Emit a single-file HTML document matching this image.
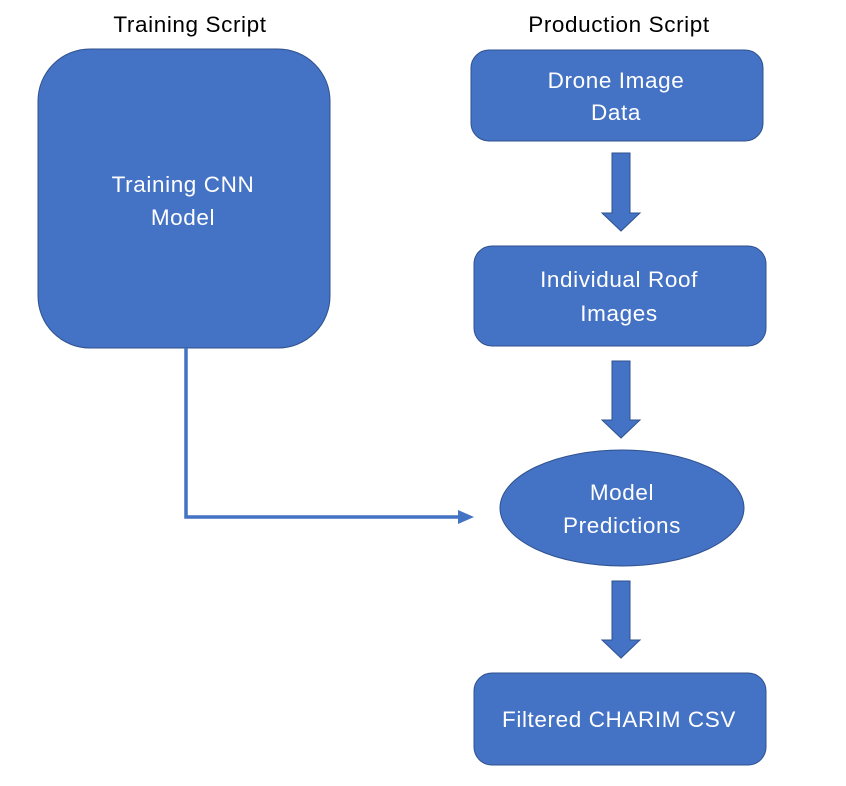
<!DOCTYPE html>
<html><head><style>html,body{margin:0;padding:0;background:#fff;}svg{display:block}</style></head>
<body>
<svg width="846" height="786" viewBox="0 0 846 786" xmlns="http://www.w3.org/2000/svg" font-family="'Liberation Sans', sans-serif">
<g fill="#4472c4" stroke="#2f528f" stroke-width="1">
<rect x="38" y="49" width="292" height="299" rx="52" ry="52"/>
<rect x="471" y="50" width="292" height="91" rx="18" ry="18"/>
<rect x="474" y="246" width="292" height="100" rx="18" ry="18"/>
<ellipse cx="622" cy="508" rx="122" ry="58"/>
<rect x="474" y="673" width="292" height="92" rx="18" ry="18"/>
<polygon points="612,153 630,153 630,213 640,213 621,231 602,213 612,213"/>
<polygon points="612,361 630,361 630,420 640,420 621,438 602,420 612,420"/>
<polygon points="612,581 630,581 630,640 640,640 621,658 602,640 612,640"/>
</g>
<polyline points="186,348 186,517 460,517" fill="none" stroke="#4472c4" stroke-width="3.5"/>
<polygon points="458,510 474,517 458,524" fill="#4472c4"/>
<g font-size="22.5" text-anchor="middle" letter-spacing="0.6">
<text x="190" y="32" fill="#000">Training Script</text>
<text x="619" y="32" fill="#000">Production Script</text>
<g fill="#fff">
<text x="183" y="192">Training CNN</text>
<text x="183" y="225">Model</text>
<text x="616" y="88">Drone Image</text>
<text x="616" y="120">Data</text>
<text x="619" y="287">Individual Roof</text>
<text x="619" y="321">Images</text>
<text x="622" y="500">Model</text>
<text x="622" y="533">Predictions</text>
<text x="619" y="727">Filtered CHARIM CSV</text>
</g></g>
</svg>
</body></html>
